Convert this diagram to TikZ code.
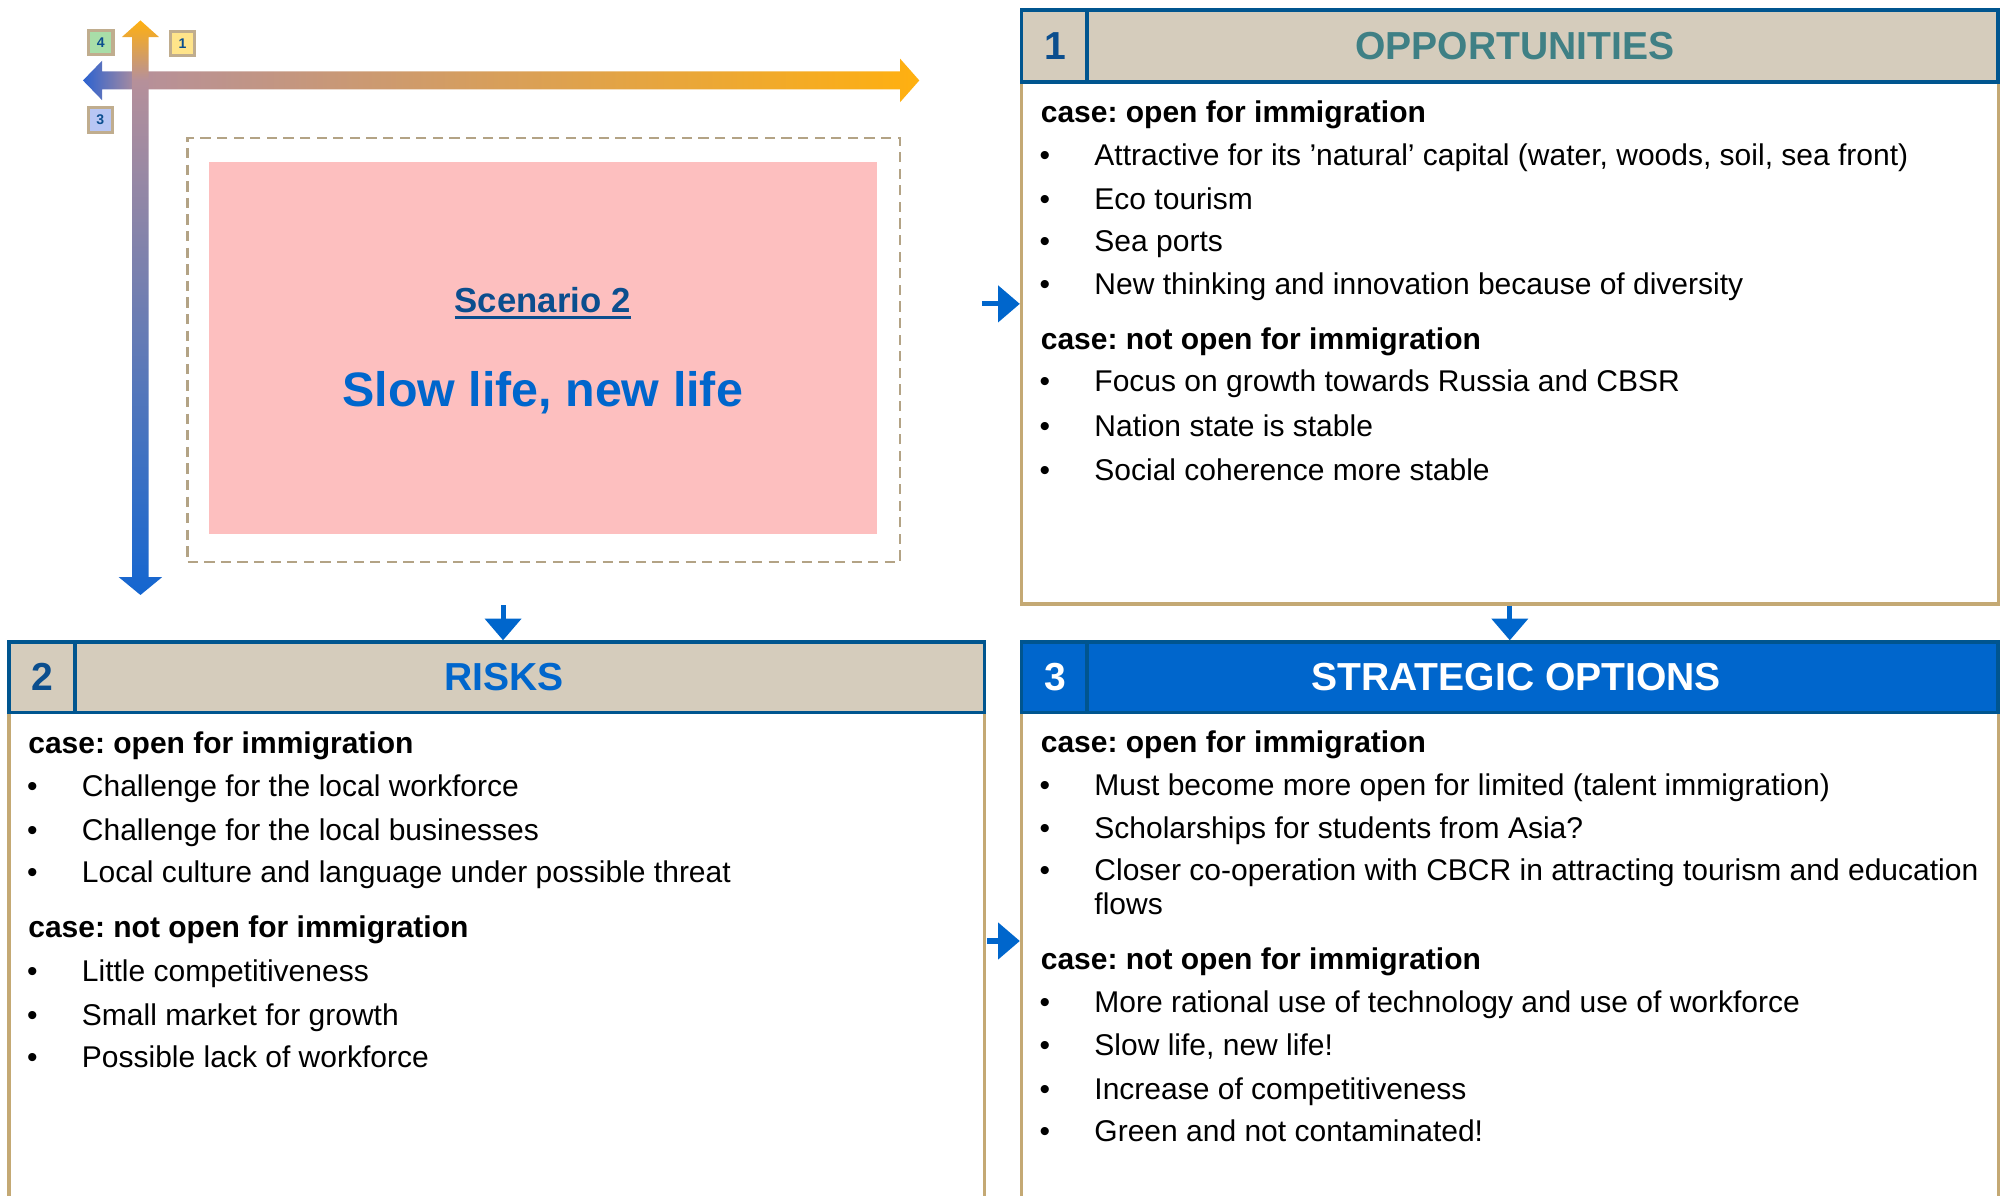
\documentclass[tikz,border=0pt]{standalone}
\usepackage{fontspec}
\setmainfont{Liberation Sans}
\usetikzlibrary{arrows.meta}
\frenchspacing

\definecolor{hdrblue}{HTML}{00558F}
\definecolor{hdrtan}{HTML}{D5CCBC}
\definecolor{bodytan}{HTML}{C4A974}
\definecolor{actblue}{HTML}{0066CC}
\definecolor{numblue}{HTML}{0B4E8E}
\definecolor{oppteal}{HTML}{3F8085}
\definecolor{pinkbg}{HTML}{FDBFBF}
\definecolor{dashtan}{HTML}{B3A385}
\definecolor{quadtan}{HTML}{C0AD8E}
\definecolor{quadgreen}{HTML}{A8DEA8}
\definecolor{quadyellow}{HTML}{FFE48A}
\definecolor{quadblue}{HTML}{B8C6F4}
\definecolor{axblue}{HTML}{2C62D0}
\definecolor{axmauve}{HTML}{B6909A}
\definecolor{axorange}{HTML}{FFB010}
\definecolor{axdown}{HTML}{1466D0}

\pgfdeclarehorizontalshading{hbarshade}{100bp}{color(0bp)=(axblue); color(25bp)=(axblue); color(28.4bp)=(axmauve); color(75bp)=(axorange); color(100bp)=(axorange)}
\pgfdeclareverticalshading{vbarshade}{100bp}{color(0bp)=(axdown); color(25bp)=(axdown); color(69.8bp)=(axmauve); color(75bp)=(axorange); color(100bp)=(axorange)}

\newcommand\bodysz{\fontsize{23.5}{28}\selectfont}
\newcommand\headsz{\fontsize{30.6}{36}\selectfont}
\newcommand\bitem[1]{\makebox[43pt][l]{•}#1}

\tikzset{
  hdr/.style={draw=hdrblue, line width=3pt, fill=hdrtan, minimum width=765pt, minimum height=56pt, inner sep=0pt},
  hdrtitle/.style={inner sep=0pt, font=\headsz\bfseries},
  bodybox/.style={draw=bodytan, line width=2.5pt, minimum width=765pt, inner sep=0pt},
  numtxt/.style={inner sep=0pt, font=\headsz\bfseries, text=numblue},
  casehd/.style={anchor=base west, inner sep=0pt, font=\bodysz\bfseries},
  itm/.style={anchor=base west, inner sep=0pt, font=\bodysz},
  link/.style={draw=actblue, line width=4pt, -{Triangle[length=17pt,width=28pt]}},
  quad/.style={draw=quadtan, line width=2.5pt, minimum size=19pt, inner sep=0pt, font=\fontsize{11}{12}\selectfont\bfseries, text=numblue}
}

\begin{document}
\begin{tikzpicture}[x=1pt,y=-1pt]
\useasboundingbox (0,0) rectangle (1568,936);

\shade[shading=hbarshade] (65,63) -- (80,47.5) -- (80,56) -- (705,56) -- (705,46) -- (720,63) -- (705,80) -- (705,70) -- (80,70) -- (80,78.5) -- cycle;
\shade[shading=vbarshade] (110,16) -- (124.5,29) -- (116.5,29) -- (116.5,452) -- (127,452) -- (110,466) -- (93,452) -- (103.5,452) -- (103.5,29) -- (95.5,29) -- cycle;
\node[quad, fill=quadgreen] (q4) at (79,33.5) {4};
\node[quad, fill=quadyellow] (q1) at (143,34) {1};
\node[quad, fill=quadblue] (q3) at (78.6,94) {3};

\node[draw=dashtan, line width=2pt, dash pattern=on 8pt off 5pt, minimum width=558pt, minimum height=332pt] (scenframe) at (426,274) {};
\node[fill=pinkbg, minimum width=523pt, minimum height=291pt, inner sep=0pt] (scenbg) at (425.5,272.5) {};
\node[anchor=base, inner sep=0pt, text=numblue, font=\fontsize{27.2}{32}\selectfont\bfseries] (scen) at (425,244.5) {Scenario 2};
\draw[numblue, line width=2.4pt] ([yshift=-4pt]scen.base west) -- ([yshift=-4pt]scen.base east);
\node[anchor=base, inner sep=0pt, text=actblue, font=\fontsize{37.9}{44}\selectfont\bfseries] (slow) at (425,318.5) {Slow life, new life};

\node[bodybox, minimum height=409pt] (oppbd) at (1182.5,268.5) {};
\node[hdr] (opphd) at (1182.5,36) {};
\draw[hdrblue, line width=3pt] ([xshift=53pt]opphd.north west) -- ([xshift=53pt]opphd.south west);
\node[numtxt] (oppnum) at ([xshift=28pt]opphd.west) {1};
\node[hdrtitle, text=oppteal] (opptitle) at ([xshift=4pt]opphd.center) {OPPORTUNITIES};

\node[bodybox, minimum width=764pt, minimum height=402pt] (riskbd) at (389,759) {};
\node[hdr, minimum width=764pt, minimum height=55pt] (riskhd) at (389,530.5) {};
\draw[hdrblue, line width=3pt] ([xshift=53pt]riskhd.north west) -- ([xshift=53pt]riskhd.south west);
\node[numtxt] (risknum) at ([xshift=28pt]riskhd.west) {2};
\node[hdrtitle, text=actblue] (risktitle) at ([xshift=6pt]riskhd.center) {RISKS};

\node[bodybox, minimum height=402pt] (stratbd) at (1182.5,759) {};
\node[hdr, minimum height=55pt, fill=actblue] (strathd) at (1182.5,530.5) {};
\draw[hdrblue, line width=3pt] ([xshift=53pt]strathd.north west) -- ([xshift=53pt]strathd.south west);
\node[numtxt, text=white] (stratnum) at ([xshift=28pt]strathd.west) {3};
\node[hdrtitle, text=white] (strattitle) at ([xshift=5pt]strathd.center) {STRATEGIC OPTIONS};

\coordinate (scenout) at (394,474);
\coordinate (scenright) at (769,238);
\coordinate (riskright) at (773,737);
\draw[link] (scenout) -- (scenout |- riskhd.north);
\draw[link] (scenright) -- (scenright -| oppbd.west);
\draw[link] (oppbd.south) -- (strathd.north);
\draw[link] (riskright) -- (riskright -| stratbd.west);

\node[casehd] (oppc1) at (815,96) {case: open for immigration};
\node[itm] (oppi1) at (814,130) {\bitem{Attractive for its ’natural’ capital (water, woods, soil, sea front)}};
\node[itm] (oppi2) at (814,164) {\bitem{Eco tourism}};
\node[itm] (oppi3) at (814,197) {\bitem{Sea ports}};
\node[itm] (oppi4) at (814,231) {\bitem{New thinking and innovation because of diversity}};
\node[casehd] (oppc2) at (815,274) {case: not open for immigration};
\node[itm] (oppi5) at (814,307) {\bitem{Focus on growth towards Russia and CBSR}};
\node[itm] (oppi6) at (814,342) {\bitem{Nation state is stable}};
\node[itm] (oppi7) at (814,376) {\bitem{Social coherence more stable}};

\node[casehd] (riskc1) at (22,590) {case: open for immigration};
\node[itm] (riski1) at (21,624) {\bitem{Challenge for the local workforce}};
\node[itm] (riski2) at (21,658) {\bitem{Challenge for the local businesses}};
\node[itm] (riski3) at (21,691) {\bitem{Local culture and language under possible threat}};
\node[casehd] (riskc2) at (22,734) {case: not open for immigration};
\node[itm] (riski4) at (21,769) {\bitem{Little competitiveness}};
\node[itm] (riski5) at (21,803) {\bitem{Small market for growth}};
\node[itm] (riski6) at (21,836) {\bitem{Possible lack of workforce}};

\node[casehd] (stratc1) at (815,589) {case: open for immigration};
\node[itm] (strati1) at (814,623) {\bitem{Must become more open for limited (talent immigration)}};
\node[itm] (strati2) at (814,657) {\bitem{Scholarships for students from Asia?}};
\node[itm] (strati3) at (814,690) {\bitem{Closer co-operation with CBCR in attracting tourism and education}};
\node[itm] (strati3b) at (857,716) {flows};
\node[casehd] (stratc2) at (815,759) {case: not open for immigration};
\node[itm] (strati4) at (814,793) {\bitem{More rational use of technology and use of workforce}};
\node[itm] (strati5) at (814,827) {\bitem{Slow life, new life!}};
\node[itm] (strati6) at (814,861) {\bitem{Increase of competitiveness}};
\node[itm] (strati7) at (814,894) {\bitem{Green and not contaminated!}};
\end{tikzpicture}
\end{document}
